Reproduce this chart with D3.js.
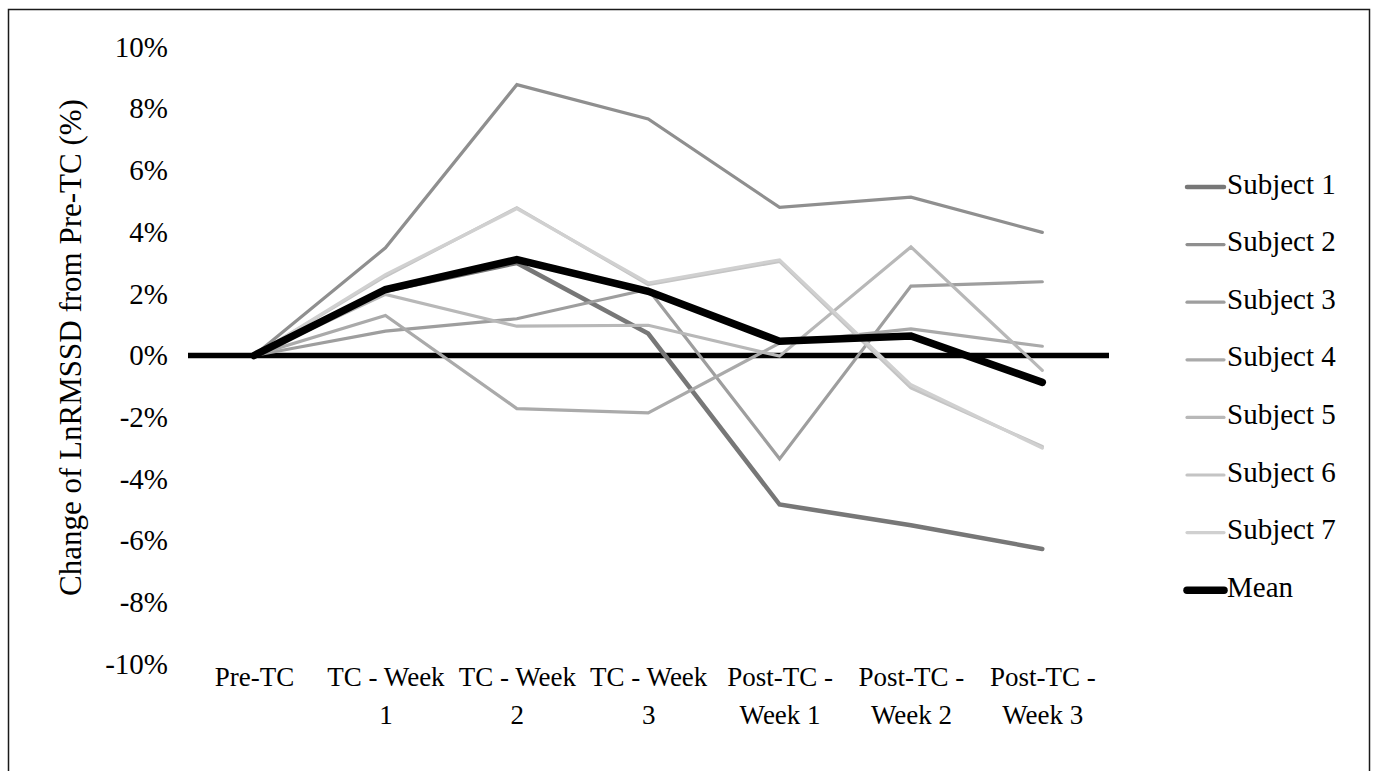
<!DOCTYPE html>
<html>
<head>
<meta charset="utf-8">
<script src="https://cdn.jsdelivr.net/npm/d3@7/dist/d3.min.js"></script>
<style>
  html, body { margin: 0; padding: 0; background: #fff; }
  svg { display: block; }
  text { font-family: "Liberation Serif", "Times New Roman", serif; fill: #000; }
</style>
</head>
<body>
<svg id="chart" width="1376" height="771"></svg>
<script>
// ---- Data ----
const categories = ["Pre-TC", "TC - Week 1", "TC - Week 2", "TC - Week 3", "Post-TC - Week 1", "Post-TC - Week 2", "Post-TC - Week 3"];
const categoryLines = [["Pre-TC"], ["TC - Week", "1"], ["TC - Week", "2"], ["TC - Week", "3"], ["Post-TC -", "Week 1"], ["Post-TC -", "Week 2"], ["Post-TC -", "Week 3"]];
const subject1 = [0, 2.10, 3.00, 0.71, -4.83, -5.50, -6.27];
const subject2 = [0, 3.49, 8.78, 7.67, 4.80, 5.13, 3.99];
const subject3 = [0, 0.79, 1.19, 2.15, -3.35, 2.25, 2.39];
const subject4 = [0, 1.30, -1.72, -1.86, 0.40, 0.86, 0.30];
const subject5 = [0, 1.98, 0.95, 0.98, -0.02, 3.52, -0.48];
const subject6 = [0, 2.57, 4.79, 2.30, 3.05, -1.05, -2.95];
const subject7 = [0, 2.62, 4.76, 2.35, 3.10, -0.95, -3.00];
const meanValues = [0, 2.14, 3.11, 2.08, 0.46, 0.63, -0.87];
const seriesNames = ["Subject 1", "Subject 2", "Subject 3", "Subject 4", "Subject 5", "Subject 6", "Subject 7", "Mean"];
const yTicks = [10, 8, 6, 4, 2, 0, -2, -4, -6, -8, -10];
const yTitle = "Change of LnRMSSD from Pre-TC (%)";

const seriesValues = [subject1, subject2, subject3, subject4, subject5, subject6, subject7, meanValues];
const colors = ["#777777", "#8f8f8f", "#9e9e9e", "#aaaaaa", "#b8b8b8", "#c4c4c4", "#d0d0d0", "#000000"];
const widths = [4.5, 3.2, 3.2, 3.2, 3.2, 3.2, 3.2, 7.5];

// ---- Layout ----
const svg = d3.select("#chart");
const x = d3.scalePoint().domain(categories).range([188.4, 1108]).padding(0.5);
const y = d3.scaleLinear().domain([-10, 10]).range([664, 47]);

// border
svg.append("rect").attr("x", 8.5).attr("y", 9.5).attr("width", 1361).attr("height", 800)
  .attr("fill", "none").attr("stroke", "#1a1a1a").attr("stroke-width", 1.5);

// y axis labels
const yAxis = d3.axisLeft(y).tickValues(yTicks).tickFormat(d => d + "%").tickSize(0).tickPadding(0);
const yg = svg.append("g").attr("transform", "translate(168,0)").call(yAxis);
yg.select(".domain").remove();
yg.selectAll("text").style("font-family", "Liberation Serif, serif").style("font-size", "29px").attr("fill", "#000");

// y title
svg.append("text")
  .attr("transform", `translate(81,${(y(10) + y(-10)) / 2 - 8}) rotate(-90)`)
  .attr("text-anchor", "middle")
  .style("font-size", "31px")
  .text(yTitle);

// x axis labels
const xAxis = d3.axisBottom(x).tickSize(0).tickFormat("");
const xg = svg.append("g").attr("transform", "translate(0,664)").call(xAxis);
xg.select(".domain").remove();
xg.selectAll(".tick").each(function(d, i) {
  const t = d3.select(this).append("text")
    .attr("text-anchor", "middle")
    .style("font-size", "27px")
    .attr("fill", "#000");
  categoryLines[i].forEach((line, j) => {
    t.append("tspan").attr("x", 0).attr("y", 22 + j * 38).text(line);
  });
});

// zero line
svg.append("line")
  .attr("x1", 188).attr("x2", 1109)
  .attr("y1", y(0)).attr("y2", y(0))
  .attr("stroke", "#000").attr("stroke-width", 5.5);

// series lines
const line = d3.line().x((d, i) => x(categories[i])).y(d => y(d));
seriesValues.forEach((vals, k) => {
  svg.append("path")
    .datum(vals)
    .attr("d", line)
    .attr("fill", "none")
    .attr("stroke", colors[k])
    .attr("stroke-width", widths[k])
    .attr("stroke-linecap", "round")
    .attr("stroke-linejoin", "miter");
});

// legend
const lg = svg.append("g");
seriesNames.forEach((name, k) => {
  const ly = 187 + k * 57.6;
  lg.append("line")
    .attr("x1", 1187).attr("x2", 1224)
    .attr("y1", ly).attr("y2", ly)
    .attr("stroke", colors[k]).attr("stroke-width", widths[k])
    .attr("stroke-linecap", "round");
  lg.append("text")
    .attr("x", 1227).attr("y", ly)
    .attr("dominant-baseline", "middle")
    .style("font-size", "29px")
    .text(name);
});
</script>
</body>
</html>
